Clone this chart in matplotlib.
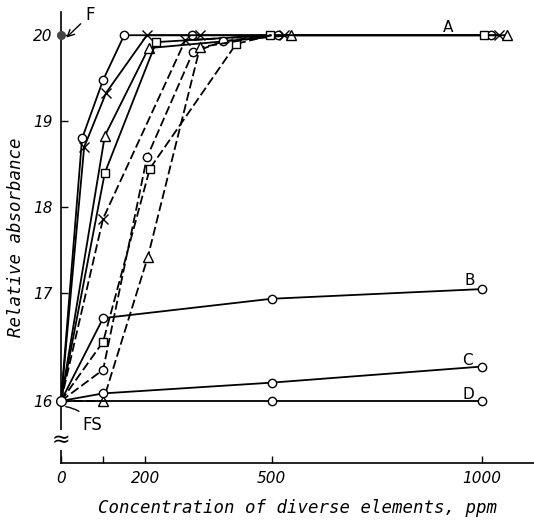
import numpy as np
import matplotlib.pyplot as plt

# series (ppm, relative absorbance)
circ_x = [0, 50, 100, 150, 310, 515, 1022]
circ_y = [16, 18.8, 19.48, 20, 20, 20, 20]
cross_x = [0, 55, 107, 204, 330, 530, 1040]
cross_y = [16, 18.7, 19.33, 20, 20, 20, 20]
tri_x = [0, 104, 208, 545, 1058]
tri_y = [16, 18.83, 19.85, 20, 20]
sq_x = [0, 104, 226, 497, 1005]
sq_y = [16, 18.4, 19.92, 20, 20]

dcross_x = [0, 100, 295, 500]
dcross_y = [16, 17.87, 19.94, 20]
dcirc_x = [0, 100, 204, 313, 385, 500]
dcirc_y = [16, 16.29, 18.58, 19.8, 19.93, 20]
dsq_x = [0, 100, 211, 416, 500]
dsq_y = [16, 16.55, 18.45, 19.9, 20]
dtri_x = [0, 100, 206, 330, 500]
dtri_y = [16, 16.0, 17.42, 19.86, 20]

b_x = [0, 100, 500, 1000]
b_y = [16, 16.77, 16.95, 17.05]
c_x = [0, 100, 500, 1000]
c_y = [16, 16.07, 16.17, 16.32]
d_x = [0, 500, 1000]
d_y = [16, 16, 16]

xticks = [0, 200, 500, 1000]
yticks = [16, 17, 18, 19, 20]


# the 16-17 interval is drawn a bit taller than the others in the original
def fwd(y):
    y = np.asarray(y, dtype=float)
    return np.where(y < 17, 17 - (17 - y) * 1.25, y)


def inv(u):
    u = np.asarray(u, dtype=float)
    return np.where(u < 17, 17 - (17 - u) / 1.25, u)


plt.rcParams['font.family'] = 'DejaVu Sans Mono'

fig = plt.figure(figsize=(5.34, 5.26), dpi=100)
ax = fig.add_axes([61/534, 63/526, 473/534, 451/526])
ax.set_yscale('function', functions=(fwd, inv))

lw = 1.3
mk = dict(markerfacecolor='white', markeredgecolor='black', markeredgewidth=1.0)

solid = [(circ_x, circ_y, 'o', 6), (cross_x, cross_y, 'x', 6.5),
         (tri_x, tri_y, '^', 6.5), (sq_x, sq_y, 's', 5.5)]
for xs, ys, m, ms in solid:
    ax.plot(xs, ys, color='black', lw=lw, marker=m, ms=ms,
            markevery=slice(1, None), zorder=3, **mk)

dashed = [(dcross_x, dcross_y, 'x', 6.5), (dcirc_x, dcirc_y, 'o', 6),
          (dsq_x, dsq_y, 's', 5.5), (dtri_x, dtri_y, '^', 6.5)]
for xs, ys, m, ms in dashed:
    ax.plot(xs, ys, color='black', lw=lw, marker=m, ms=ms, dashes=(5, 2),
            markevery=slice(1, -1), zorder=3, **mk)

for xs, ys in [(b_x, b_y), (c_x, c_y), (d_x, d_y)]:
    ax.plot(xs, ys, color='black', lw=lw, marker='o', ms=6,
            markevery=slice(1, None), zorder=3, **mk)

# F and FS points
ax.plot([0], [20], 'o', color='#444444', ms=5.5, clip_on=False, zorder=4)
ax.plot([0], [16], 'o', ms=7, clip_on=False, zorder=4, **mk)
ax.annotate('F', xy=(8, 19.95), xytext=(58, 20.24), fontsize=12,
            family='DejaVu Sans', va='center',
            arrowprops=dict(arrowstyle='->', lw=1.0, color='black'))
ax.annotate('FS', xy=(5, 15.95), xytext=(50, 15.78), fontsize=12,
            family='DejaVu Sans', va='center',
            arrowprops=dict(arrowstyle='-', lw=1.0, color='black',
                            connectionstyle='arc3,rad=0.25'))

for lab, lx, ly in [('A', 919, 20.09), ('B', 970, 17.15),
                    ('C', 965, 16.38), ('D', 968, 16.06)]:
    ax.text(lx, ly, lab, fontsize=11, family='DejaVu Sans',
            ha='center', va='center')

# axis break mark
ax.text(0, 15.64, '\u2248', fontsize=16, ha='center', va='center',
        family='DejaVu Sans', clip_on=False, zorder=5,
        bbox=dict(facecolor='white', edgecolor='none', pad=0))

ax.set_xlim(0, 1123)
ax.set_ylim(15.423, 20.27)
ax.spines['top'].set_visible(False)
ax.spines['right'].set_visible(False)
ax.spines['left'].set_linewidth(1.2)
ax.spines['bottom'].set_linewidth(1.2)
ax.set_xticks(xticks)
ax.set_xticks([100], minor=True)
ax.set_yticks(yticks)
ax.set_xticklabels([str(v) for v in xticks], fontstyle='oblique',
                   family='DejaVu Sans')
ax.set_yticklabels([str(v) for v in yticks], fontstyle='oblique',
                   family='DejaVu Sans')
ax.tick_params(direction='in', length=5, width=1, labelsize=11, pad=6)
ax.tick_params(axis='x', which='minor', direction='in', length=5, width=1)

ax.set_xlabel('Concentration of diverse elements, ppm', fontsize=12.5,
              fontstyle='oblique', labelpad=9)
ax.set_ylabel('Relative absorbance', fontsize=12.5, fontstyle='oblique',
              labelpad=6)

fig.savefig('out.png', dpi=100)
